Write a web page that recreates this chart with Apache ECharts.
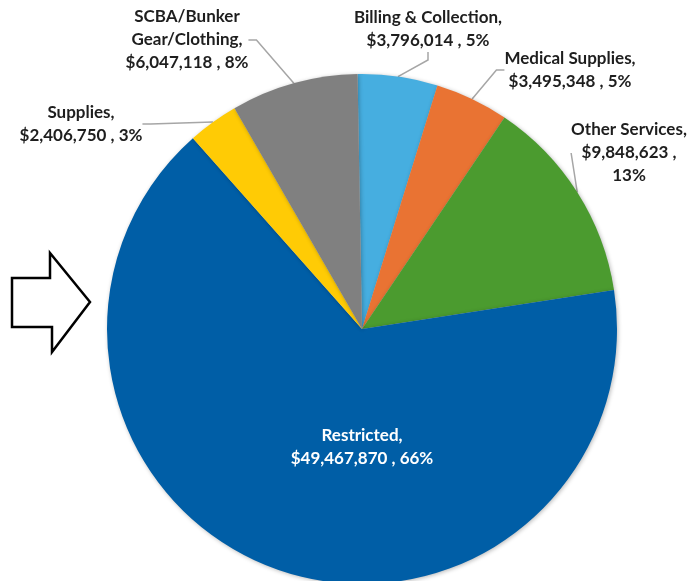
<!DOCTYPE html>
<html>
<head>
<meta charset="utf-8">
<script src="https://cdn.jsdelivr.net/npm/echarts@6/dist/echarts.min.js"></script>
<style>
  html, body { margin: 0; padding: 0; background: #ffffff; }
  #chart { width: 696px; height: 581px; }
</style>
</head>
<body>
<div id="chart"></div>
<script>
// Budget categories, listed clockwise from 12 o'clock
const categories = [
  'Billing & Collection',
  'Medical Supplies',
  'Other Services',
  'Restricted',
  'Supplies',
  'SCBA/Bunker Gear/Clothing'
];
const amounts = [3796014, 3495348, 9848623, 49467870, 2406750, 6047118];
const sliceColors = ['#46AEE0', '#E97333', '#4B9B2F', '#005EA6', '#FFCB05', '#808080'];

// Label text lines: name line(s), then amount / percent
const nameLines = {
  'SCBA/Bunker Gear/Clothing': ['SCBA/Bunker', 'Gear/Clothing,'],
};
const splitAmountAndPct = { 'Other Services': true };

// Where each label block sits (centre of the text block)
const labelSpots = [
  { x: 428, y: 29 },
  { x: 570, y: 70 },
  { x: 629, y: 153 },
  { x: 362, y: 447 },
  { x: 81, y: 124 },
  { x: 187, y: 40 }
];

function money(v) {
  return '$' + v.toLocaleString('en-US');
}

const chart = echarts.init(document.getElementById('chart'), null, { renderer: 'canvas' });

const data = categories.map((name, i) => ({
  name: name,
  value: amounts[i],
  itemStyle: { color: sliceColors[i] },
  label: name === 'Restricted'
    ? { position: 'inside', color: '#ffffff' }
    : { position: 'outside' },
  labelLine: { show: name !== 'Restricted' }
}));

chart.setOption({
  backgroundColor: '#ffffff',
  animation: false,
  graphic: [{
    type: 'polygon',
    shape: {
      points: [[12, 278], [50, 278], [50, 253], [90, 302], [52, 352], [52, 327], [12, 327]]
    },
    style: { fill: '#ffffff', stroke: '#000000', lineWidth: 2.5 }
  }],
  series: [{
    type: 'pie',
    center: [362, 329],
    radius: 255,
    startAngle: 91,
    clockwise: true,
    avoidLabelOverlap: false,
    data: data,
    itemStyle: {
      borderWidth: 0,
      shadowBlur: 4,
      shadowColor: 'rgba(0,0,0,0.28)',
      shadowOffsetX: 1,
      shadowOffsetY: 1
    },
    label: {
      fontFamily: 'Lato',
      fontWeight: 'bold',
      fontSize: 17,
      lineHeight: 23,
      color: '#1e1e1e',
      align: 'center',
      formatter: function (p) {
        const pct = Math.round(p.percent) + '%';
        const head = nameLines[p.name] || [p.name + ','];
        const tail = splitAmountAndPct[p.name]
          ? [money(p.value) + ' ,', pct]
          : [money(p.value) + ' , ' + pct];
        return head.concat(tail).join('\n');
      }
    },
    labelLine: {
      show: true,
      length: 10,
      length2: 8,
      lineStyle: { color: '#A6A6A6', width: 1.5 }
    },
    labelLayout: function (params) {
      const spot = labelSpots[params.dataIndex];
      return {
        x: spot.x,
        y: spot.y,
        align: 'center',
        verticalAlign: 'middle'
      };
    },
    emphasis: { disabled: true }
  }]
});
</script>
</body>
</html>
